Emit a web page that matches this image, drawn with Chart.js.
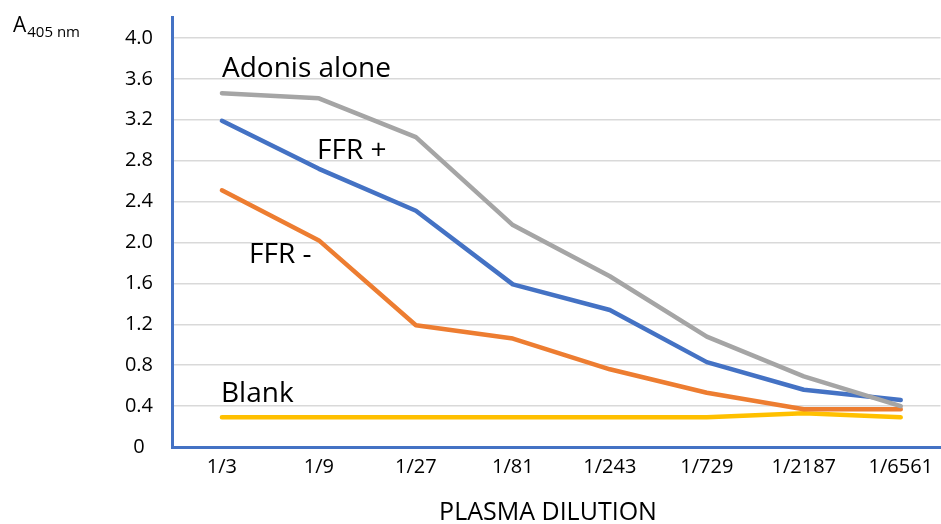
<!DOCTYPE html>
<html>
<head>
<meta charset="utf-8">
<script src="https://cdn.jsdelivr.net/npm/chart.js@4"></script>
<style>
  html, body { margin: 0; padding: 0; background: #fff; overflow: hidden; }
  #wrap { width: 941px; height: 524px; }
</style>
</head>
<body>
<div id="wrap"><canvas id="chart"></canvas></div>
<script>
// Data
const dilutions = ['1/3', '1/9', '1/27', '1/81', '1/243', '1/729', '1/2187', '1/6561'];
const adonisAlone = [3.46, 3.41, 3.03, 2.17, 1.67, 1.08, 0.69, 0.40];
const ffrPlus = [3.19, 2.72, 2.31, 1.59, 1.34, 0.83, 0.56, 0.46];
const ffrMinus = [2.51, 2.02, 1.19, 1.06, 0.76, 0.53, 0.37, 0.37];
const blank = [0.29, 0.29, 0.29, 0.29, 0.29, 0.29, 0.33, 0.29];
const yTicks = [0, 0.4, 0.8, 1.2, 1.6, 2.0, 2.4, 2.8, 3.2, 3.6, 4.0];

const FONT = '"Open Sans", "Noto Sans", sans-serif';

function toPoints(arr) {
    return arr.map((v, i) => ({ x: i, y: v }));
}

function line(label, arr, color) {
    return {
        label: label,
        data: toPoints(arr),
        borderColor: color,
        backgroundColor: color,
        borderWidth: 4.5,
        pointRadius: 0,
        tension: 0,
        borderCapStyle: 'round',
        borderJoinStyle: 'round'
    };
}

// Labels written next to the lines, the y-axis unit and the x-axis title
const annotations = {
    id: 'annotations',
    afterDraw(chart) {
        const ctx = chart.ctx;
        ctx.save();
        ctx.fillStyle = '#000';
        ctx.textBaseline = 'alphabetic';
        ctx.font = '28px ' + FONT;
        ctx.fillText('Adonis alone', 222, 77);
        ctx.fillText('FFR +', 317, 159);
        ctx.fillText('FFR -', 249, 263);
        ctx.fillText('Blank', 221, 402);

        ctx.font = '21px ' + FONT;
        ctx.fillText('A', 13, 32);
        const w = ctx.measureText('A').width;
        ctx.font = '15px ' + FONT;
        ctx.fillText('405 nm', 13 + w + 1, 37);

        ctx.font = '25px ' + FONT;
        ctx.textAlign = 'center';
        ctx.fillText('PLASMA DILUTION', 548, 520);
        ctx.restore();
    }
};

const ctx = document.getElementById('chart').getContext('2d');
const myChart = new Chart(ctx, {
    type: 'line',
    data: {
        datasets: [
            line('Adonis alone', adonisAlone, '#A5A5A5'),
            line('FFR -', ffrMinus, '#ED7D31'),
            line('FFR +', ffrPlus, '#4472C4'),
            line('Blank', blank, '#FFC000')
        ]
    },
    options: {
        responsive: true,
        maintainAspectRatio: false,
        animation: false,
        layout: { padding: { top: 17.5, right: 0, bottom: 0, left: 0 } },
        plugins: {
            legend: { display: false },
            tooltip: { enabled: false }
        },
        scales: {
            x: {
                type: 'linear',
                min: -0.515,
                max: 7.41,
                afterBuildTicks: (scale) => {
                    scale.ticks = dilutions.map((d, i) => ({ value: i }));
                },
                afterFit: (scale) => {
                    scale.height = 77;
                },
                grid: { color: 'transparent', drawTicks: false },
                border: { color: '#4472C4', width: 3 },
                ticks: {
                    autoSkip: false,
                    maxRotation: 0,
                    padding: 8,
                    color: '#000',
                    font: { family: FONT, size: 20 },
                    callback: (v) => dilutions[v]
                }
            },
            y: {
                min: 0,
                max: 4.2,
                afterBuildTicks: (scale) => {
                    scale.ticks = yTicks.map(v => ({ value: v }));
                },
                afterFit: (scale) => {
                    scale.width = 172;
                    scale.paddingTop = 0;
                    scale.paddingBottom = 0;
                },
                grid: {
                    drawTicks: false,
                    lineWidth: 1.5,
                    color: (c) => (c.tick && c.tick.value === 0 ? 'transparent' : '#D9D9D9')
                },
                border: { color: '#4472C4', width: 3 },
                ticks: {
                    padding: 19,
                    crossAlign: 'center',
                    color: '#000',
                    font: { family: FONT, size: 20 },
                    callback: (v) => (v === 0 ? '0' : v.toFixed(1))
                }
            }
        }
    },
    plugins: [annotations]
});
</script>
</body>
</html>
